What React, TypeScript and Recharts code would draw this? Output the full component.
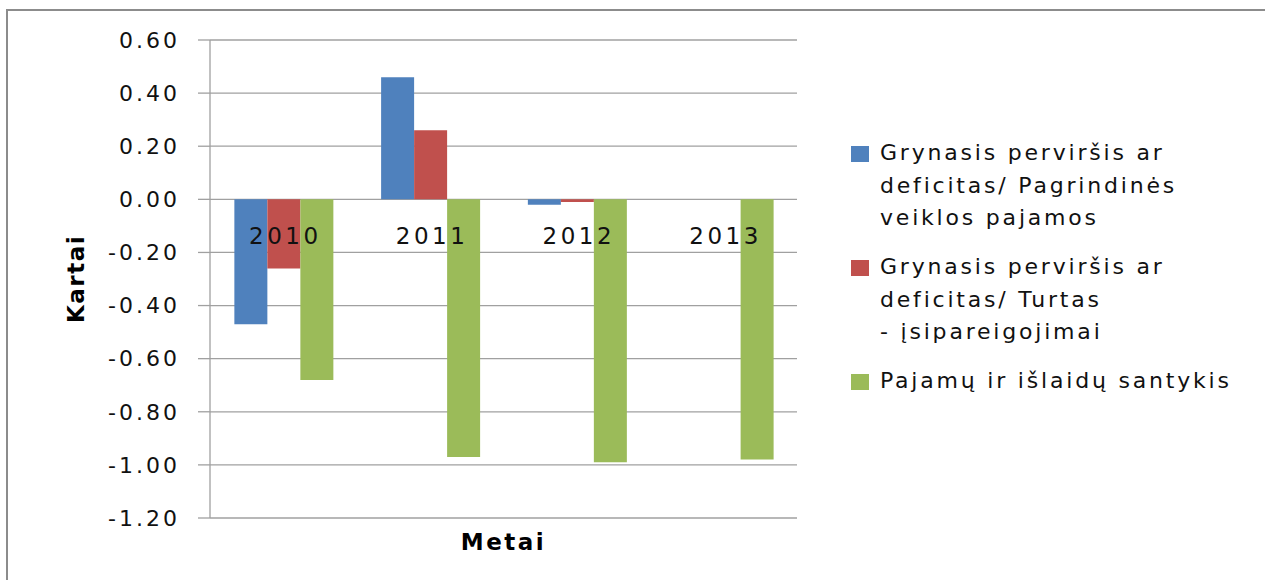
import { BarChart, Bar, XAxis, YAxis, CartesianGrid, Label } from 'recharts';

const years = ['2010', '2011', '2012', '2013'];
const seriesNames = [
  'Grynasis perviršis ar\ndeficitas/ Pagrindinės\nveiklos pajamos',
  'Grynasis perviršis ar\ndeficitas/ Turtas\n- įsipareigojimai',
  'Pajamų ir išlaidų santykis',
];
const netToIncome = [-0.47, 0.46, -0.02, 0];
const netToEquity = [-0.26, 0.26, -0.01, 0];
const incomeToExpense = [-0.68, -0.97, -0.99, -0.98];
const yTicks = [0.6, 0.4, 0.2, 0, -0.2, -0.4, -0.6, -0.8, -1.0, -1.2];
const colors = ['#4F81BD', '#C0504D', '#9BBB59'];

const W = 1265;
const H = 580;
const TOP = 40;
const BOTTOM = 518;
const LEFT = 210;
const RIGHT = 797;
const Y_MAX = 0.6;
const Y_MIN = -1.2;
const FONT = '"DejaVu Sans", sans-serif';

const data = years.map((y, i) => ({
  year: y,
  a: netToIncome[i],
  b: netToEquity[i],
  c: incomeToExpense[i],
}));

// category labels sit just under the zero line, like the Excel original
const zeroY = TOP + ((BOTTOM - TOP) * Y_MAX) / (Y_MAX - Y_MIN);

const YearTick = (props: any) => (
  <text
    x={props.x + 2}
    y={zeroY + 45}
    textAnchor="middle"
    fontFamily={FONT}
    fontSize={23}
    letterSpacing={3.5}
    fill="#111"
  >
    {props.payload.value}
  </text>
);

const LegendBox = () => (
  <div
    style={{
      position: 'absolute',
      left: 851,
      top: 137,
      fontFamily: FONT,
      fontSize: 22,
      letterSpacing: 2.8,
      color: '#111',
      lineHeight: '32.5px',
    }}
  >
    {seriesNames.map((n, i) => (
      <div key={i} style={{ display: 'flex', alignItems: 'flex-start', marginBottom: 16.5 }}>
        <div
          style={{
            width: 18,
            height: 16,
            background: colors[i],
            marginTop: 9,
            marginRight: 11,
            flexShrink: 0,
          }}
        />
        <div style={{ whiteSpace: 'pre' }}>{n}</div>
      </div>
    ))}
  </div>
);

export default function App() {
  return (
    <div style={{ position: 'absolute', left: 0, top: 0, width: W, height: H, background: '#fff', overflow: 'hidden' }}>
      <div
        style={{
          position: 'absolute',
          left: 6,
          top: 9,
          width: W,
          height: H,
          borderTop: '2px solid #8c8c8c',
          borderLeft: '2px solid #8c8c8c',
        }}
      />
      <div style={{ position: 'absolute', left: 0, top: 0 }}>
        <BarChart
          width={W}
          height={H}
          data={data}
          margin={{ top: TOP, right: W - RIGHT, bottom: 0, left: 0 }}
          barCategoryGap="16.6%"
          barGap={0}
        >
          <CartesianGrid vertical={false} stroke="#a0a0a0" strokeWidth={1.3} />
          <YAxis
            type="number"
            domain={[Y_MIN, Y_MAX]}
            ticks={yTicks}
            interval={0}
            width={LEFT}
            tickSize={12}
            tickMargin={18}
            tickFormatter={(v: number) => v.toFixed(2)}
            tick={{ fontFamily: FONT, fontSize: 22, fill: '#111', letterSpacing: 3 }}
            stroke="#a0a0a0"
            strokeWidth={1.3}
          >
            <Label
              value="Kartai"
              angle={-90}
              position="insideLeft"
              offset={76}
              style={{ fontFamily: FONT, fontSize: 23, fontWeight: 'bold', fill: '#000', textAnchor: 'middle', letterSpacing: 1.5 }}
            />
          </YAxis>
          <Bar dataKey="a" name={seriesNames[0]} fill={colors[0]} isAnimationActive={false} />
          <Bar dataKey="b" name={seriesNames[1]} fill={colors[1]} isAnimationActive={false} />
          <Bar dataKey="c" name={seriesNames[2]} fill={colors[2]} isAnimationActive={false} />
          <XAxis
            dataKey="year"
            axisLine={false}
            tickLine={false}
            height={H - BOTTOM}
            tick={<YearTick />}
            interval={0}
          >
            <Label
              value="Metai"
              position="insideBottom"
              offset={30}
              style={{ fontFamily: FONT, fontSize: 23, fontWeight: 'bold', fill: '#000', letterSpacing: 2.5 }}
            />
          </XAxis>
        </BarChart>
      </div>
      <LegendBox />
    </div>
  );
}
